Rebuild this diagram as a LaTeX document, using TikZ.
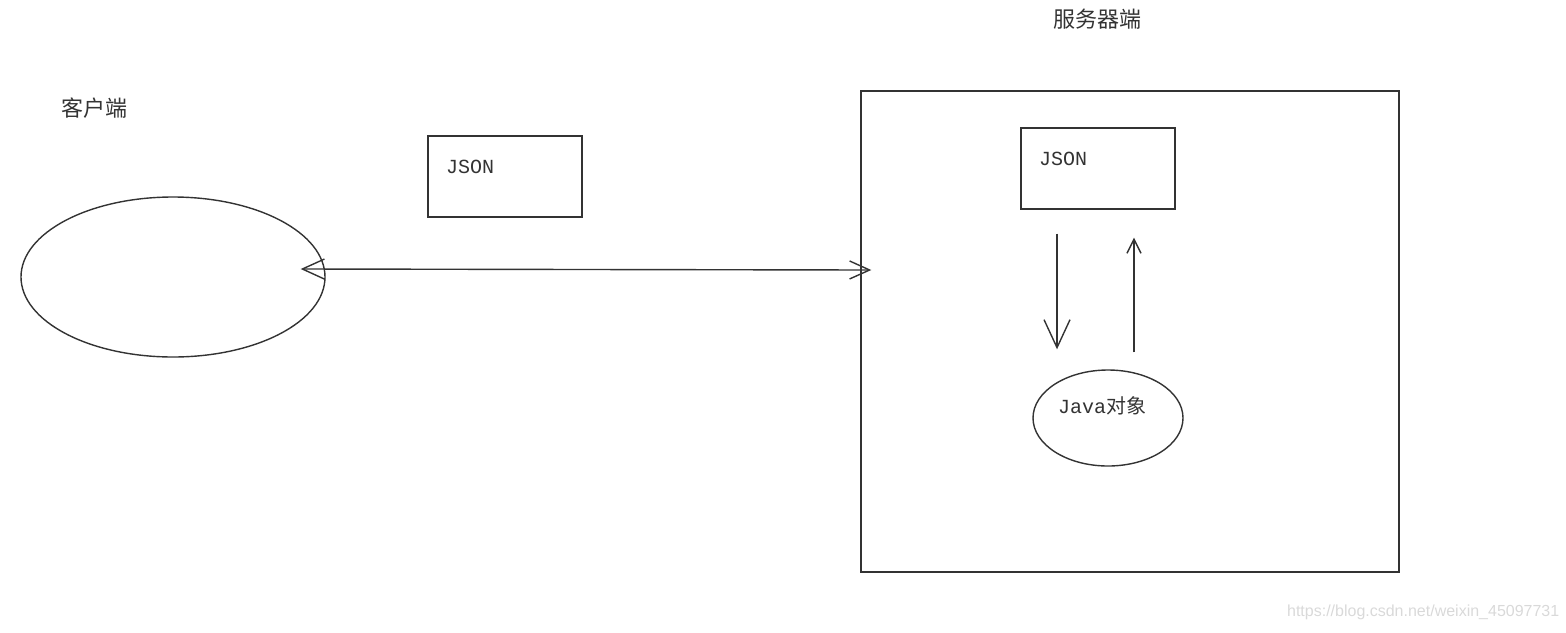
\documentclass[tikz,border=0pt]{standalone}
\usepackage{fontspec}
\newfontfamily\cjk{Noto Sans CJK SC}
\newfontfamily\mono{Liberation Mono}
\newfontfamily\wmark{Liberation Sans}
\usetikzlibrary{shapes.geometric,arrows.meta}

\begin{document}
\begin{tikzpicture}[x=0.5pt,y=-0.5pt,line width=0.7pt,
        box/.style={draw=black!80,rectangle,minimum width=77pt,minimum height=40.5pt,
            inner sep=0pt},
        oval/.style={draw=black!80,ellipse,inner sep=0pt},
        title/.style={font=\cjk\fontsize{11}{13}\selectfont,text=black!80,inner sep=0pt},
        code/.style={font=\mono\fontsize{10}{12}\selectfont,text=black!80,inner sep=0pt},
        link/.style={draw=black!80}]
    \useasboundingbox (0,0) rectangle (1566,632);
    % client side
    \node[title] (clientlbl) at (94,108) {客户端};
    \node[oval,minimum width=152pt,minimum height=80pt] (client) at (173,277) {};
    \node[box] (json1) at (505,176.5) {};
    \node[code] (json1txt) at (470,167) {JSON};
    % server side
    \node[title] (serverlbl) at (1097,19) {服务器端};
    \node[box,minimum width=269pt,minimum height=240.5pt] (server) at (1130,331.5) {};
    \node[box] (json2) at (1098,168.5) {};
    \node[code] (json2txt) at (1063,159) {JSON};
    \node[oval,minimum width=75pt,minimum height=48pt] (java) at (1108,418) {};
    \node[code] (javatxt) at (1102,406) {Java{\cjk 对象}};
    % connectors
    \draw[link,{Straight Barb[length=11pt,width=10pt]}-{Straight Barb[length=10pt,width=9pt]}]
        ([shift={(-25,-8)}]client.east) -- ([shift={(11,-61.5)}]server.west);
    \draw[link,-{Straight Barb[length=14pt,width=13pt]}]
        ([shift={(-41,24)}]json2.south) -- ([shift={(-51,-20)}]java.north);
    \draw[link,-{Straight Barb[length=7pt,width=7pt]}]
        ([shift={(26,-17)}]java.north) -- ([shift={(36,28)}]json2.south);
    % watermark
    \node[font=\wmark\fontsize{8}{10}\selectfont,text=black!15,anchor=east,inner sep=0pt]
        (mark) at (1560,612) {https://blog.csdn.net/weixin\_45097731};
\end{tikzpicture}
\end{document}
